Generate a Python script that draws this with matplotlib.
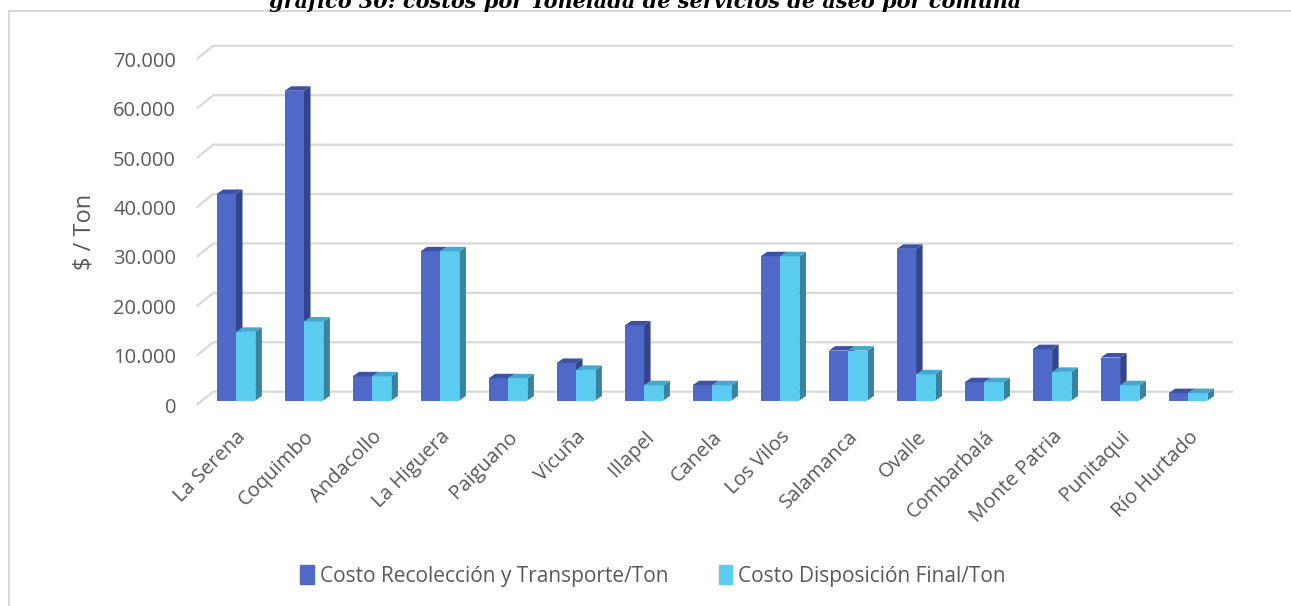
import matplotlib.pyplot as plt
from matplotlib.patches import Polygon, Patch, Rectangle
from matplotlib.ticker import FuncFormatter

comunas = ["La Serena", "Coquimbo", "Andacollo", "La Higuera", "Paiguano", "Vicuña",
           "Illapel", "Canela", "Los Vilos", "Salamanca", "Ovalle", "Combarbalá",
           "Monte Patria", "Punitaqui", "Río Hurtado"]
recoleccion = [41800, 62700, 4900, 30200, 4500, 7600, 15200, 3100, 29200, 10100,
               30700, 3700, 10400, 8700, 1500]
disposicion = [13900, 16000, 4900, 30200, 4500, 6200, 3100, 3100, 29200, 10100,
               5300, 3700, 5800, 3100, 1500]
series_names = ["Costo Recolección y Transporte/Ton", "Costo Disposición Final/Ton"]
yticks = [0, 10000, 20000, 30000, 40000, 50000, 60000, 70000]
title = "gráfico 30: costos por Tonelada de servicios de aseo por comuna"

# colours: front, side, top
blue = ("#4E69C8", "#33448A", "#3D52A3")
cyan = ("#5BCBF0", "#3A83A0", "#46A8CC")
grid_c = "#D9D9D9"
text_c = "#595959"
font = "Open Sans"

# fake 3d geometry (data units)
bar_w = 0.285
bar_base = 910         # front face sits a bit behind the floor edge
depth_x, depth_y = 0.096, 910
back_x, back_y = 0.244, 2700
x_front = -0.578

fig = plt.figure(figsize=(12.91, 6.06), dpi=100)
ax = fig.add_axes([190 / 1291, (606 - 420) / 606, 1060 / 1291, 400 / 606])
ax.set_xlim(-0.676, 14.91)
ax.set_ylim(-3036, 77935)
for s in ax.spines.values():
    s.set_visible(False)

# gridlines: front diagonal + back line
for v in yticks:
    ax.plot([x_front, x_front + back_x, 14.66], [v, v + back_y, v + back_y],
            color=grid_c, lw=1.6, zorder=1, solid_capstyle="butt")


def draw_3d_bars(xs, vals, cols, z):
    bars = ax.bar(xs, vals, width=bar_w, bottom=bar_base, color=cols[0],
                  zorder=z, linewidth=0)
    for b in bars:
        x0, y0 = b.get_x(), b.get_y()
        x1, y1 = x0 + b.get_width(), y0 + b.get_height()
        side = [(x1, y0), (x1 + depth_x, y0 + depth_y), (x1 + depth_x, y1 + depth_y), (x1, y1)]
        top = [(x0, y1), (x1, y1), (x1 + depth_x, y1 + depth_y), (x0 + depth_x, y1 + depth_y)]
        ax.add_patch(Polygon(side, closed=True, color=cols[1], lw=0, zorder=z - 0.5))
        ax.add_patch(Polygon(top, closed=True, color=cols[2], lw=0, zorder=z + 0.1))


pos = list(range(len(comunas)))
draw_3d_bars([p - bar_w / 2 for p in pos], recoleccion, blue, 3)
draw_3d_bars([p + bar_w / 2 for p in pos], disposicion, cyan, 5)

ax.set_yticks(yticks)
ax.yaxis.set_major_formatter(FuncFormatter(lambda v, p: f"{int(v):,}".replace(",", ".")))
ax.tick_params(axis="y", length=0, pad=10, labelsize=14.5, labelcolor=text_c)
for lab in ax.get_yticklabels():
    lab.set_fontfamily(font)

ax.set_xticks(pos)
ax.set_xticklabels(comunas, rotation=45, ha="right", rotation_mode="anchor",
                   fontsize=14.5, color=text_c, fontfamily=font)
ax.tick_params(axis="x", length=0, pad=5)

fig.text(85 / 1291, 1 - 232 / 606, "$ / Ton", rotation=90, ha="center", va="center",
         fontsize=17, color=text_c, fontfamily=font)

handles = [Patch(color=blue[0]), Patch(color=cyan[0])]
fig.legend(handles, series_names, loc="center", bbox_to_anchor=(0.506, 1 - 576 / 606),
           ncol=2, frameon=False, handlelength=0.65, handleheight=1.0, handletextpad=0.3,
           columnspacing=2.4, prop={"family": font, "size": 15}, labelcolor=text_c)

# chart frame, cut at right and bottom
fig.patches.append(Rectangle((9 / 1291, -0.05), 1.2, 1.05 - 11 / 606, transform=fig.transFigure,
                             fill=False, edgecolor=grid_c, lw=1.5))

# title is partly cut off at the top, like in the source page
fig.text(0.5, 1 - 8 / 606, title, ha="center", va="baseline", fontsize=15,
         fontweight="bold", fontstyle="italic", family="DejaVu Serif", color="black")

fig.savefig("out.png", dpi=100)
